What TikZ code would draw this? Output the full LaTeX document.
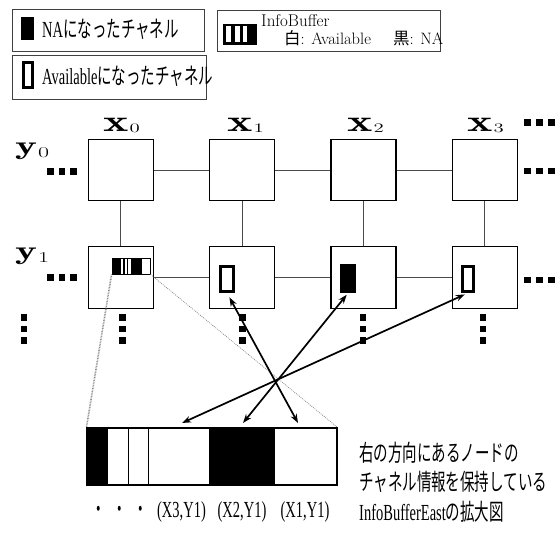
\documentclass[tikz,border=0pt]{standalone}
\usepackage{fontspec}
\usepackage{graphicx}
\usetikzlibrary{arrows.meta}
\newfontfamily\tms{Liberation Serif}
\newfontfamily\jp{Noto Sans CJK JP}
\newcommand{\cnd}[1]{\scalebox{0.63}[1]{\fontsize{23}{27}\selectfont\tms #1}}
\newcommand{\gridlab}[5]{\scalebox{1.6}[1]{\fontsize{#1}{#1}\selectfont$\mathbf{#2}$\kern0.6pt\raisebox{#5}{\fontsize{#4}{#4}\selectfont #3}}}
\begin{document}
\begin{tikzpicture}[x=1pt,y=-1pt,
  nodebox/.style={draw, line width=1.2pt, minimum width=65pt, minimum height=61.5pt, inner sep=0},
  link/.style={draw=black!70, line width=0.9pt},
  sq/.style={fill, minimum size=6.8pt, inner sep=0},
  frame/.style={draw=black!75, line width=0.9pt},
  dbl/.style={line width=1.7pt, {Stealth[length=9pt,width=6.5pt]}-{Stealth[length=9pt,width=6.5pt]}},
  txt/.style={inner sep=0, anchor=west},
  lab/.style={inner sep=0, anchor=base west}]
\useasboundingbox (0,0) rectangle (557,537);

% ---- legend
\draw[frame] (12,9) rectangle (204,51);
\fill (21,17) rectangle (34,40);
\node[txt] (l1) at (42,29) {\cnd{NA{\jp になったチャネル}}};
\draw[frame] (12,55) rectangle (206,99);
\draw[line width=3.2pt] (23.6,62.6) rectangle (32.4,87.4);
\node[txt] (l2) at (42,76) {\cnd{Available{\jp になったチャネル}}};
\draw[frame] (217,10) rectangle (440,51);
\fill (223,24) rectangle (257,45);
\fill[white] (226,26.5) rectangle (230.5,42.5);
\fill[white] (235,26.5) rectangle (239.5,42.5);
\fill[white] (242.5,26.5) rectangle (246.5,42.5);
\node[lab] (l3) at (261,27) {\fontsize{17}{20}\selectfont InfoBuffer};
\node[lab] (l4) at (284,44.5) {\fontsize{16.5}{20}\selectfont{\jp 白}: Available};
\node[lab] (l5) at (393,44.5) {\fontsize{16.5}{20}\selectfont{\jp 黒}: NA};

% ---- grid
\foreach \c/\xx in {0/120.8,1/242.2,2/363.4,3/484.6}{
  \node[nodebox] (n\c0) at (\xx,170) {};
  \node[nodebox] (n\c1) at (\xx,277.5) {};
  \draw[link] (n\c0.south) -- (n\c1.north);
}
\foreach \c/\d in {0/1,1/2,2/3}{
  \draw[link] (n\c0.east) -- (n\d0.west);
  \draw[link] (n\c1.east) -- (n\d1.west);
}

% ---- labels
\node[lab] (lx0) at (103,131.5) {\gridlab{30}{x}{0}{13}{-1pt}};
\node[lab] (lx1) at (227,131.5) {\gridlab{30}{x}{1}{13}{-1pt}};
\node[lab] (lx2) at (347,131.5) {\gridlab{30}{x}{2}{13}{-1pt}};
\node[lab] (lx3) at (467,131.5) {\gridlab{30}{x}{3}{13}{-1pt}};
\node[lab] (ly0) at (15,154.5) {\gridlab{26}{y}{0}{15}{-3.5pt}};
\node[lab] (ly1) at (15,259.5) {\gridlab{26}{y}{1}{15}{-3.5pt}};

% ---- continuation dots
\foreach \xx in {50.5,62,73.5}{
  \node[sq] at (\xx,171.5) {};
  \node[sq] at (\xx,277.5) {};
}
\foreach \xx in {527.5,539.5,551.5}{
  \node[sq] at (\xx,122.5) {};
  \node[sq] at (\xx,171) {};
  \node[sq] at (\xx,280) {};
}
\foreach \xx in {24,122.5,242.5,363,483}{
  \foreach \yy in {317.5,329,340.5}{
    \node[sq] at (\xx,\yy) {};
  }
}

% ---- mini buffers in row 1
\fill (112,258) rectangle (121,274);
\fill (123,258) rectangle (124.5,274);
\fill (126.5,258) rectangle (128,274);
\fill (130.5,258) rectangle (142,274);
\node[draw, line width=0.8pt, minimum width=38pt, minimum height=16pt, inner sep=0] (ib) at (131,266) {};
\node[draw, line width=3.3pt, minimum width=12.7pt, minimum height=24.7pt, inner sep=0] (m1) at (227,279) {};
\node[fill, minimum width=16pt, minimum height=29pt, inner sep=0] (m2) at (348,278.5) {};
\node[draw, line width=3.3pt, minimum width=10.7pt, minimum height=24.7pt, inner sep=0] (m3) at (468,279) {};

% ---- enlarged buffer
\fill (87,428) rectangle (108,485);
\fill (209,428) rectangle (275,485);
\draw[line width=0.9pt] (128,428) -- (128,485);
\draw[line width=0.9pt] (148,428) -- (148,485);
\node[draw, line width=1.1pt, minimum width=250pt, minimum height=57pt, inner sep=0] (bb) at (212,456.5) {};

% ---- zoom lines
\draw[black!45, line width=1.6pt, dash pattern=on 0.8pt off 0.8pt] (ib.south west) -- (bb.north west);
\draw[black!50, line width=0.6pt, dash pattern=on 1pt off 1pt] (ib.south east) -- (bb.north east);

% ---- arrows
\coordinate (t1) at (298,423);
\coordinate (t2) at (243,423);
\coordinate (t3) at (182,423);
\draw[dbl, shorten <=5pt] (m1.south) -- (t1);
\draw[dbl, shorten <=2pt] (m2.south) -- (t2);
\draw[dbl, shorten <=3.5pt] (m3.south) -- (t3);

% ---- bottom labels
\node[inner sep=0] (dd) at (119.5,512) {\cnd{{\jp ・\hspace{10pt}・\hspace{10pt}・}}};
\node[inner sep=0] (c3) at (181.5,512) {\cnd{(X3,Y1)}};
\node[inner sep=0] (c2) at (242,512) {\cnd{(X2,Y1)}};
\node[inner sep=0] (c1) at (305,512) {\cnd{(X1,Y1)}};

% ---- description
\node[txt] (r1) at (359,452.5) {\cnd{\jp 右の方向にあるノードの}};
\node[txt] (r2) at (359,482) {\cnd{\jp チャネル情報を保持している}};
\node[txt] (r3) at (359,512) {\cnd{InfoBufferEast{\jp の拡大図}}};
\end{tikzpicture}
\end{document}
